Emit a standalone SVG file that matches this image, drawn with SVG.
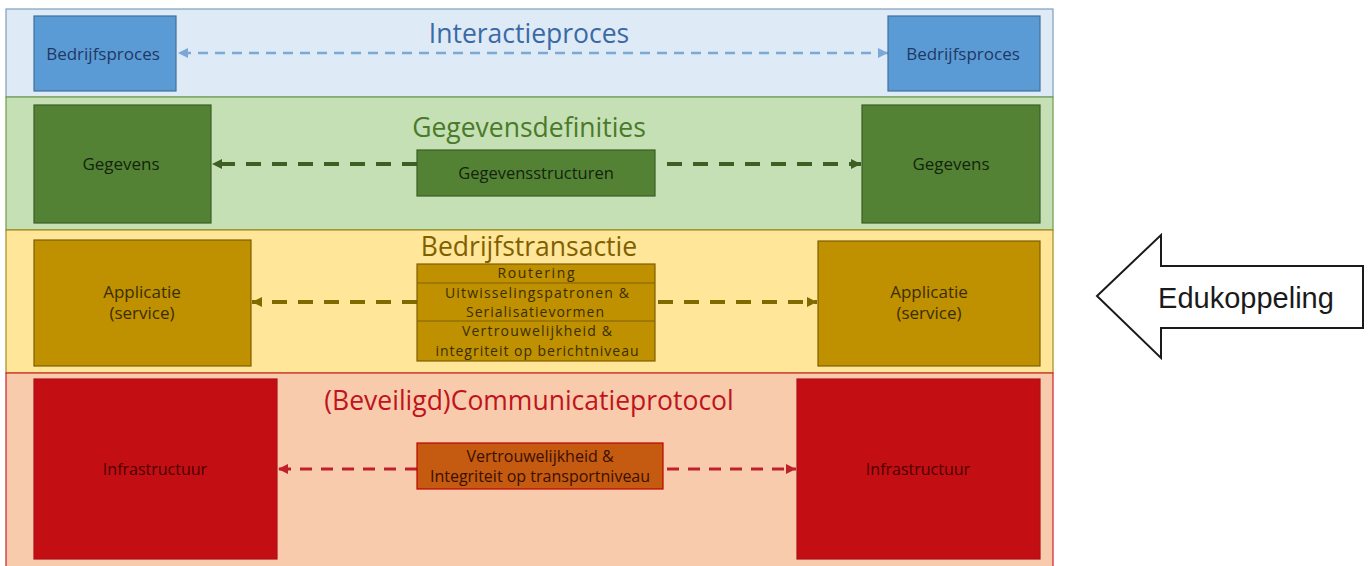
<svg xmlns="http://www.w3.org/2000/svg" width="1372" height="566" viewBox="0 0 1372 566">
<style>
text{font-family:"Open Sans","Noto Sans",sans-serif;text-anchor:middle}
.title{font-size:26.5px}
.bt{font-size:17px}
.ct{font-size:16px}
.yt{font-size:14px}
.c-blue{stroke:#7ba7d9;stroke-width:2.5;stroke-dasharray:10 7;fill:none}
.c-green{stroke:#3e5f24;stroke-width:4;stroke-dasharray:15 11;fill:none}
.c-gold{stroke:#7f6a00;stroke-width:4;stroke-dasharray:15 11;fill:none}
.c-red{stroke:#c0202a;stroke-width:3;stroke-dasharray:12 9;fill:none}
</style>
<defs>
<marker id="ab" markerUnits="userSpaceOnUse" markerWidth="12" markerHeight="12" refX="10" refY="6" orient="auto-start-reverse"><path d="M0,1 L10,6 L0,11 Z" fill="#7ba7d9"/></marker>
<marker id="ag" markerUnits="userSpaceOnUse" markerWidth="12" markerHeight="12" refX="10" refY="6" orient="auto"><path d="M0,1 L10,6 L0,11 Z" fill="#3e5f24"/></marker>
<marker id="ay" markerUnits="userSpaceOnUse" markerWidth="12" markerHeight="12" refX="10" refY="6" orient="auto"><path d="M0,1 L10,6 L0,11 Z" fill="#7f6a00"/></marker>
<marker id="ar" markerUnits="userSpaceOnUse" markerWidth="12" markerHeight="12" refX="10" refY="6" orient="auto"><path d="M0,1 L10,6 L0,11 Z" fill="#c0202a"/></marker>
</defs>
<rect width="1372" height="566" fill="#ffffff"/>
<g id="bands">
<rect x="6" y="9" width="1047" height="88" fill="#deeaf6" stroke="#7f9fbf" stroke-width="1.2"/>
<rect x="6" y="97" width="1047" height="133" fill="#c5e0b4" stroke="#6f9a4a" stroke-width="1.2"/>
<rect x="6" y="230" width="1047" height="143" fill="#ffe699" stroke="#a58a1c" stroke-width="1.2"/>
<rect x="6" y="373" width="1047" height="200" fill="#f8cbad" stroke="#d0202a" stroke-width="1.2"/>
<text class="title" x="529" y="43" fill="#3a6aa6">Interactieproces</text>
<text class="title" x="529" y="137" fill="#4a7a2a">Gegevensdefinities</text>
<text class="title" x="529" y="256" fill="#7f6000">Bedrijfstransactie</text>
<text class="title" x="529" y="410" fill="#c0141c">(Beveiligd)Communicatieprotocol</text>
</g>
<g id="connectors">
<line class="c-blue" x1="888" y1="53" x2="178" y2="53" marker-start="url(#ab)" marker-end="url(#ab)"/>
<line class="c-green" x1="417" y1="164" x2="212" y2="164" marker-end="url(#ag)"/>
<line class="c-green" x1="667" y1="164" x2="861" y2="164" marker-end="url(#ag)"/>
<line class="c-gold" x1="417" y1="302" x2="252" y2="302" marker-end="url(#ay)"/>
<line class="c-gold" x1="658" y1="302" x2="817" y2="302" marker-end="url(#ay)"/>
<line class="c-red" x1="417" y1="469" x2="278" y2="469" marker-end="url(#ar)"/>
<line class="c-red" x1="667" y1="469" x2="796" y2="469" marker-end="url(#ar)"/>
</g>
<g id="bp-left">
<rect x="34" y="16" width="142" height="75" fill="#5b9bd5" stroke="#41719c" stroke-width="1.2"/>
<text class="bt" x="103" y="60" fill="#1f3864">Bedrijfsproces</text>
</g>
<g id="bp-right">
<rect x="888" y="16" width="152" height="75" fill="#5b9bd5" stroke="#41719c" stroke-width="1.2"/>
<text class="bt" x="963" y="60" fill="#1f3864">Bedrijfsproces</text>
</g>
<g id="geg-left">
<rect x="34" y="105" width="177" height="118" fill="#548235" stroke="#3d5c28" stroke-width="1.2"/>
<text class="bt" x="121" y="170" fill="#13240c">Gegevens</text>
</g>
<g id="geg-center">
<rect x="417" y="150" width="238" height="46" fill="#548235" stroke="#3d5c28" stroke-width="1.2"/>
<text class="ct" x="536" y="179" fill="#13240c" style="font-size:16.5px">Gegevensstructuren</text>
</g>
<g id="geg-right">
<rect x="862" y="105" width="178" height="118" fill="#548235" stroke="#3d5c28" stroke-width="1.2"/>
<text class="bt" x="951" y="170" fill="#13240c">Gegevens</text>
</g>
<g id="app-left">
<rect x="34" y="240" width="217" height="126" fill="#bf9000" stroke="#7f6000" stroke-width="1.2"/>
<text class="bt" x="142" y="298" fill="#3a2e00">Applicatie</text>
<text class="bt" x="142" y="319" fill="#3a2e00">(service)</text>
</g>
<g id="bt-center">
<rect x="417" y="264" width="238" height="97" fill="#bf9000" stroke="#7f6000" stroke-width="1.2"/>
<line x1="417" y1="283" x2="655" y2="283" stroke="#7f6000" stroke-width="1.2"/>
<line x1="417" y1="321" x2="655" y2="321" stroke="#7f6000" stroke-width="1.2"/>
<text class="yt" x="536" y="278" fill="#3a2e00" textLength="77">Routering</text>
<text class="yt" x="537" y="298" fill="#3a2e00" textLength="184">Uitwisselingspatronen &amp;</text>
<text class="yt" x="535" y="317" fill="#3a2e00" textLength="138">Serialisatievormen</text>
<text class="yt" x="537" y="336" fill="#3a2e00" textLength="150">Vertrouwelijkheid &amp;</text>
<text class="yt" x="537" y="356" fill="#3a2e00" textLength="203">integriteit op berichtniveau</text>
</g>
<g id="app-right">
<rect x="818" y="241" width="222" height="125" fill="#bf9000" stroke="#7f6000" stroke-width="1.2"/>
<text class="bt" x="929" y="298" fill="#3a2e00">Applicatie</text>
<text class="bt" x="929" y="319" fill="#3a2e00">(service)</text>
</g>
<g id="infra-left">
<rect x="34" y="379" width="243" height="180" fill="#c30f14" stroke="#b01018" stroke-width="1.2"/>
<text class="ct" x="155" y="475" fill="#4a0000">Infrastructuur</text>
</g>
<g id="cp-center">
<rect x="417" y="443" width="246" height="46" fill="#c55a11" stroke="#c00000" stroke-width="1.2"/>
<text class="ct" x="540" y="462" fill="#3a1000">Vertrouwelijkheid &amp;</text>
<text class="ct" x="540" y="482" fill="#3a1000">Integriteit op transportniveau</text>
</g>
<g id="infra-right">
<rect x="797" y="379" width="243" height="180" fill="#c30f14" stroke="#b01018" stroke-width="1.2"/>
<text class="ct" x="918" y="475" fill="#4a0000">Infrastructuur</text>
</g>
<g id="edukoppeling">
<polygon points="1097,296 1161,235 1161,266 1363,266 1363,328 1161,328 1161,358" fill="#ffffff" stroke="#1a1a1a" stroke-width="2"/>
<text x="1246" y="308" style="font-family:'Liberation Sans',Arial,sans-serif;font-size:29px" fill="#1a1a1a">Edukoppeling</text>
</g>
</svg>
